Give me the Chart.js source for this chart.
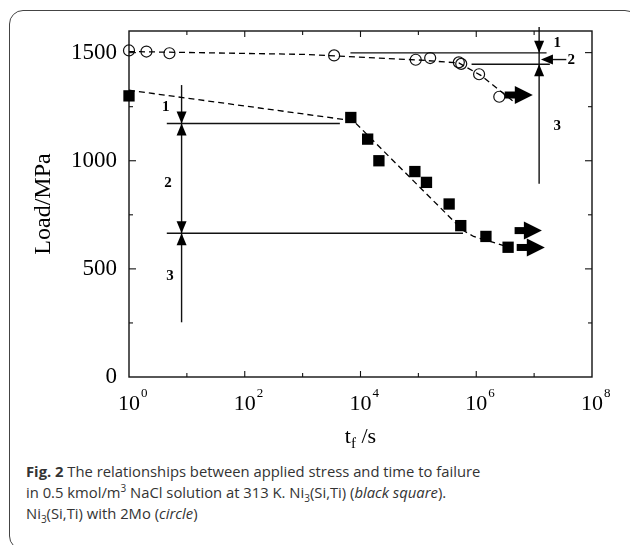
<!DOCTYPE html>
<html>
<head>
<meta charset="utf-8">
<script src="https://cdn.jsdelivr.net/npm/chart.js@4.4.1/dist/chart.umd.min.js"></script>
<style>
    html, body { margin: 0; padding: 0; background: #fff; }
    body { width: 630px; height: 545px; position: relative; overflow: hidden; }
    #frame {
        position: absolute; left: 9px; top: 10px; width: 630px; height: 540px;
        border: 1.5px solid #444; border-radius: 14px; box-sizing: border-box;
    }
    #wrap { position: absolute; left: 0; top: 0; width: 630px; height: 455px; }
    #caption {
        position: absolute; left: 26px; top: 461px; width: 590px;
        font-family: "Open Sans", sans-serif; font-size: 14.8px; line-height: 21px; color: #333;
    }
    #caption sup, #caption sub { font-size: 10px; line-height: 0; }
</style>
</head>
<body>
<div id="frame"></div>
<div id="wrap"><canvas id="stress-chart" width="630" height="455"></canvas></div>
<div id="caption">
    <b>Fig. 2</b> The relationships between applied stress and time to failure<br>
    in 0.5 kmol/m<sup>3</sup> NaCl solution at 313 K. Ni<sub>3</sub>(Si,Ti) (<i>black square</i>).<br>
    Ni<sub>3</sub>(Si,Ti) with 2Mo (<i>circle</i>)
</div>
<script>

    //---------------------------------------------------------------------------------------------
    // - DATA -------------------------------------------------------------------------------------
    //---------------------------------------------------------------------------------------------

    // Ni3(Si,Ti) with 2Mo (open circle)
    var circle_time = [1, 2, 5, 3500, 90000, 160000, 500000, 550000, 1120000, 2500000];
    var circle_load = [1510, 1505, 1497, 1487, 1467, 1475, 1455, 1448, 1400, 1296];

    var circle_fit_time = [1, 1000, 100000, 500000, 1200000, 4300000];
    var circle_fit_load = [1505, 1492, 1466, 1452, 1395, 1276];

    // Ni3(Si,Ti) (black square)
    var square_time = [1, 6800, 13300, 20800, 87000, 138000, 340000, 540000, 1470000, 3550000];
    var square_load = [1300, 1200, 1100, 1000, 950, 900, 800, 700, 650, 600];

    var square_fit_time = [1, 7500, 580000, 900000, 1500000, 4300000];
    var square_fit_load = [1326, 1185, 680, 650, 632, 595];

    var x_tick_powers = [0, 2, 4, 6, 8];
    var y_tick_values = [0, 500, 1000, 1500];

    // run-out arrows (unbroken specimens)
    var runout_from = [3100000, 4600000, 5000000];
    var runout_to = [9500000, 13600000, 15300000];
    var runout_load = [1304, 677, 599];

    function pts(xs, ys) {
        return xs.map(function (x, i) { return {x: x, y: ys[i]}; });
    }

    //---------------------------------------------------------------------------------------------
    // - DRAWING HELPERS --------------------------------------------------------------------------
    //---------------------------------------------------------------------------------------------

    var SERIF = '"Liberation Serif", "Times New Roman", serif';

    function line(ctx, x1, y1, x2, y2) {
        ctx.beginPath();
        ctx.moveTo(x1, y1);
        ctx.lineTo(x2, y2);
        ctx.stroke();
    }

    // small triangle, tip at (x, y), dir: 'down' | 'up' | 'left'
    function head(ctx, x, y, dir) {
        var w = 5, l = 12;
        ctx.beginPath();
        ctx.moveTo(x, y);
        if (dir === 'down') { ctx.lineTo(x - w, y - l); ctx.lineTo(x + w, y - l); }
        if (dir === 'up') { ctx.lineTo(x - w, y + l); ctx.lineTo(x + w, y + l); }
        if (dir === 'left') { ctx.lineTo(x + l, y - w); ctx.lineTo(x + l, y + w); }
        ctx.closePath();
        ctx.fill();
    }

    function label(ctx, txt, x, y) {
        ctx.font = 'bold 15px ' + SERIF;
        ctx.textAlign = 'center';
        ctx.textBaseline = 'middle';
        ctx.fillText(txt, x, y);
    }

    var decor_plugin = {
        id: 'decor',
        beforeDatasetsDraw: function (chart) {
            var ctx = chart.ctx;
            var a = chart.chartArea;
            var xs = chart.scales.x;
            var ys = chart.scales.y;
            var X = function (v) { return xs.getPixelForValue(v); };
            var Y = function (v) { return ys.getPixelForValue(v); };

            ctx.save();
            ctx.strokeStyle = '#111';
            ctx.fillStyle = '#000';

            // plot frame
            ctx.lineWidth = 1.4;
            ctx.strokeRect(a.left, a.top, a.right - a.left, a.bottom - a.top);

            // inward ticks
            ctx.lineWidth = 1.1;
            for (var k = 1; k < 8; k++) {
                var px = X(Math.pow(10, k));
                var len = (k % 2 === 0) ? 6 : 4;
                line(ctx, px, a.bottom, px, a.bottom - len);
                line(ctx, px, a.top, px, a.top + len);
            }
            for (var v = 250; v < 1600; v += 250) {
                var py = Y(v);
                var l2 = (v % 500 === 0) ? 7 : 4;
                line(ctx, a.left, py, a.left + l2, py);
                line(ctx, a.right, py, a.right - l2, py);
            }

            // x tick labels 10^n
            ctx.textBaseline = 'alphabetic';
            x_tick_powers.forEach(function (p) {
                var cx = X(Math.pow(10, p));
                ctx.font = '22px ' + SERIF;
                var w = ctx.measureText('10').width;
                ctx.textAlign = 'center';
                ctx.fillText('10', cx, a.bottom + 33);
                ctx.font = '13px ' + SERIF;
                ctx.textAlign = 'left';
                ctx.fillText(String(p), cx + w / 2 + 1, a.bottom + 20);
            });

            // x title t_f /s
            ctx.font = '22px ' + SERIF;
            var wt = ctx.measureText('t').width;
            var ws = ctx.measureText(' /s').width;
            ctx.font = '15px ' + SERIF;
            var wf = ctx.measureText('f').width;
            var sx = (a.left + a.right) / 2 - (wt + wf + ws) / 2;
            var by = a.bottom + 66;
            ctx.textAlign = 'left';
            ctx.font = '22px ' + SERIF;
            ctx.fillText('t', sx, by);
            ctx.font = '15px ' + SERIF;
            ctx.fillText('f', sx + wt, by + 5);
            ctx.font = '22px ' + SERIF;
            ctx.fillText(' /s', sx + wt + wf, by);

            // run-out arrows
            for (var i = 0; i < runout_load.length; i++) {
                var x0 = X(runout_from[i]), x1 = X(runout_to[i]), yy = Y(runout_load[i]);
                ctx.fillRect(x0, yy - 3.5, (x1 - x0) - 16, 7);
                ctx.beginPath();
                ctx.moveTo(x1, yy);
                ctx.lineTo(x1 - 18, yy - 9);
                ctx.lineTo(x1 - 18, yy + 9);
                ctx.closePath();
                ctx.fill();
            }

            // left annotation (square alloy)
            ctx.lineWidth = 1.4;
            var lx = X(8.1);
            var l1 = Y(1172), l2y = Y(665);
            line(ctx, lx, Y(1350), lx, Y(253));
            line(ctx, X(4.5), l1, X(4400), l1);
            line(ctx, X(4.5), l2y, X(590000), l2y);
            head(ctx, lx, l1, 'down');
            head(ctx, lx, l1, 'up');
            head(ctx, lx, l2y, 'down');
            head(ctx, lx, l2y, 'up');
            label(ctx, '1', X(4.3), Y(1246));
            label(ctx, '2', X(4.7), Y(895));
            label(ctx, '3', X(5.1), Y(465));

            // right annotation (2Mo alloy)
            var rx = X(12200000);
            var r1 = Y(1499), r2 = Y(1446), rm = Y(1468);
            line(ctx, rx, a.top - 4, rx, Y(894));
            line(ctx, X(6700), r1, X(16400000), r1);
            line(ctx, X(830000), r2, X(18700000), r2);
            head(ctx, rx, r1, 'down');
            head(ctx, rx, r2, 'up');
            var ax = X(13100000);
            line(ctx, ax + 8, rm, X(36000000), rm);
            head(ctx, ax, rm, 'left');
            label(ctx, '1', X(25000000), Y(1542));
            label(ctx, '2', X(44000000), Y(1464));
            label(ctx, '3', X(25000000), Y(1161));

            ctx.restore();
        }
    };

    //---------------------------------------------------------------------------------------------
    // - CHART ------------------------------------------------------------------------------------
    //---------------------------------------------------------------------------------------------

    var dash = [6, 4];

    var stress_chart_data = {
        datasets: [{
            label: 'Ni3(Si,Ti) with 2Mo fit',
            data: pts(circle_fit_time, circle_fit_load),
            showLine: true,
            borderColor: '#000',
            borderWidth: 1.3,
            borderDash: dash,
            pointRadius: 0,
            tension: 0
        }, {
            label: 'Ni3(Si,Ti) fit',
            data: pts(square_fit_time, square_fit_load),
            showLine: true,
            borderColor: '#000',
            borderWidth: 1.3,
            borderDash: dash,
            pointRadius: 0,
            tension: 0
        }, {
            label: 'Ni3(Si,Ti) with 2Mo',
            data: pts(circle_time, circle_load),
            showLine: false,
            clip: false,
            pointStyle: 'circle',
            pointRadius: 5.5,
            pointBorderWidth: 1.2,
            pointBorderColor: '#111',
            pointBackgroundColor: 'rgba(255,255,255,0)'
        }, {
            label: 'Ni3(Si,Ti)',
            data: pts(square_time, square_load),
            showLine: false,
            clip: false,
            pointStyle: 'rect',
            pointRadius: 8,
            pointBorderWidth: 0,
            pointBorderColor: '#000',
            pointBackgroundColor: '#000'
        }]
    };

    var stress_chart_config = {
        type: 'scatter',
        data: stress_chart_data,
        plugins: [decor_plugin],
        options: {
            responsive: false,
            animation: false,
            layout: { padding: { top: 31, right: 38, left: 0, bottom: 0 } },
            plugins: {
                legend: { display: false },
                tooltip: { enabled: false }
            },
            scales: {
                x: {
                    type: 'logarithmic',
                    min: 1,
                    max: 100000000,
                    ticks: { display: false },
                    grid: { display: false, drawTicks: false },
                    border: { display: false },
                    afterFit: function (s) { s.height = 78; }
                },
                y: {
                    min: 0,
                    max: 1600,
                    afterBuildTicks: function (s) {
                        s.ticks = y_tick_values.map(function (v) { return {value: v}; });
                    },
                    ticks: {
                        padding: 12,
                        color: '#000',
                        font: { family: SERIF, size: 23 },
                        callback: function (v) { return String(v); }
                    },
                    grid: { display: false, drawTicks: false },
                    border: { display: false },
                    title: {
                        display: true,
                        text: 'Load/MPa',
                        color: '#000',
                        font: { family: SERIF, size: 24 },
                        padding: { top: 29, bottom: 0 }
                    },
                    afterFit: function (s) { s.width = 129; }
                }
            }
        }
    };

    var stress_chart_ctx = document.getElementById('stress-chart').getContext('2d');

    new Chart(stress_chart_ctx, stress_chart_config);

</script>
</body>
</html>
